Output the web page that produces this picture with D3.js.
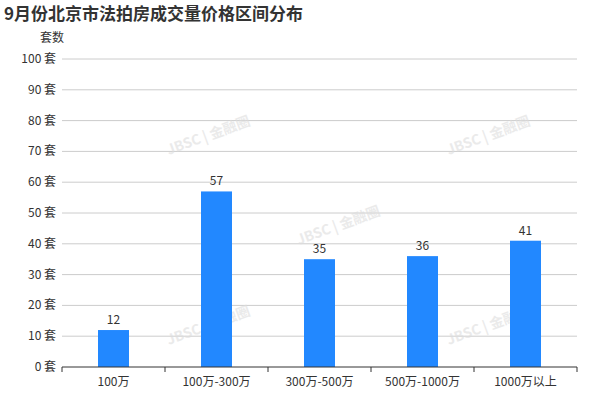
<!DOCTYPE html>
<meta charset="utf-8">
<style>
  body { margin: 0; background: #fff; }
  text { font-family: "Noto Sans CJK SC", "Noto Sans", sans-serif; }
</style>
<body>
<script src="https://d3js.org/d3.v7.min.js"></script>
<script>

var categories = ["100万", "100万-300万", "300万-500万", "500万-1000万", "1000万以上"];
var values = [12, 57, 35, 36, 41];
var yTicks = [0, 10, 20, 30, 40, 50, 60, 70, 80, 90, 100];

var width = 600, height = 400;
var margin = {top: 59, right: 23, bottom: 33, left: 62};

var svg = d3.select("body").append("svg")
  .attr("width", width)
  .attr("height", height);

var x = d3.scaleBand()
  .domain(categories)
  .range([margin.left, width - margin.right]);

var y = d3.scaleLinear()
  .domain([0, 100])
  .range([height - margin.bottom, margin.top]);

svg.append("text")
  .attr("x", 4).attr("y", 20)
  .style("font-size", "17px").style("font-weight", "bold").style("fill", "#333")
  .text("9月份北京市法拍房成交量价格区间分布");

svg.append("text")
  .attr("x", 52).attr("y", 42)
  .attr("text-anchor", "middle")
  .style("font-size", "12px").style("fill", "#333")
  .text("套数");

// grid lines
svg.append("g").selectAll("line")
  .data(yTicks.slice(1))
  .enter().append("line")
    .attr("x1", margin.left).attr("x2", width - margin.right)
    .attr("y1", y).attr("y2", y)
    .style("stroke", "#ccc");

// y labels
svg.append("g").selectAll("text")
  .data(yTicks)
  .enter().append("text")
    .attr("x", margin.left - 6)
    .attr("y", function(d) { return y(d) + 4; })
    .attr("text-anchor", "end")
    .style("font-size", "12px").style("fill", "#333")
    .text(function(d) { return d + " 套"; });

// watermarks
var marks = [[210, 140], [490, 140], [210, 330], [490, 330], [340, 230]];
svg.append("g").selectAll("text")
  .data(marks)
  .enter().append("text")
    .attr("transform", function(d) { return "translate(" + d[0] + "," + d[1] + ") rotate(-20)"; })
    .attr("text-anchor", "middle")
    .style("font-size", "14px").style("font-weight", "bold")
    .style("fill", "#ddd").style("opacity", 0.6)
    .text("JBSC | 金融圈");

var bw = 31;
svg.append("g").selectAll("rect")
  .data(values)
  .enter().append("rect")
    .attr("x", function(d, i) { return x(categories[i]) + x.bandwidth() / 2 - bw / 2; })
    .attr("y", y)
    .attr("width", bw)
    .attr("height", function(d) { return y(0) - y(d); })
    .style("fill", "#2288ff");

svg.append("g").selectAll("text")
  .data(values)
  .enter().append("text")
    .attr("x", function(d, i) { return x(categories[i]) + x.bandwidth() / 2; })
    .attr("y", function(d) { return y(d) - 6; })
    .attr("text-anchor", "middle")
    .style("font-size", "12px").style("fill", "#333")
    .text(function(d) { return d; });

// x axis
var xAxis = svg.append("g")
  .attr("transform", "translate(0," + y(0) + ")");
xAxis.append("line")
  .attr("x1", margin.left).attr("x2", width - margin.right)
  .style("stroke", "#333");
var bounds = categories.map(function(c) { return x(c); }).concat([width - margin.right]);
xAxis.selectAll(".tick").data(bounds).enter().append("line")
  .attr("x1", function(d) { return d; }).attr("x2", function(d) { return d; })
  .attr("y1", 0).attr("y2", 5)
  .style("stroke", "#333");
xAxis.selectAll("text").data(categories).enter().append("text")
  .attr("x", function(d) { return x(d) + x.bandwidth() / 2; })
  .attr("y", 19)
  .attr("text-anchor", "middle")
  .style("font-size", "12px").style("fill", "#333")
  .text(function(d) { return d; });

</script>
